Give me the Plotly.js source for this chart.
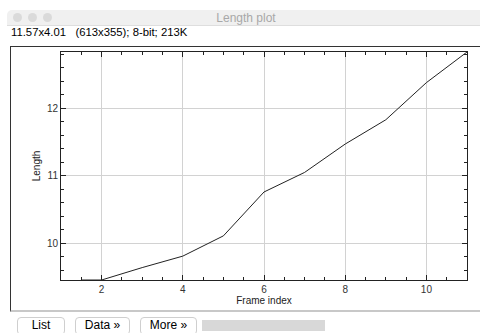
<!DOCTYPE html>
<html>
<head>
<meta charset="utf-8">
<script src="https://cdn.plot.ly/plotly-3.0.1.min.js"></script>
<style>
  html, body { margin: 0; padding: 0; background: #ffffff; width: 480px; height: 333px; overflow: hidden; }
  .abs { position: absolute; }
  #titlebar { left: 7px; top: 10px; width: 480px; height: 15px; background: #f0f0f0; border-bottom: 1px solid #dedede; border-top-left-radius: 5px; }
  .light { width: 9px; height: 9px; border-radius: 50%; background: #dadada; top: 13px; }
  #wtitle { left: 0; width: 492px; top: 11px; text-align: center; font-family: "Liberation Sans", Arial, sans-serif; font-size: 12px; color: #a8a8a8; }
  #info { left: 11px; top: 26px; font-family: "Liberation Sans", Arial, sans-serif; font-size: 11.3px; color: #000; white-space: pre; }
  #frame { left: 10px; top: 46px; width: 480px; height: 263px; border-left: 1px solid #333; border-top: 1px solid #333; border-bottom: 2px solid #c8c8c8; }
  .btn { top: 317px; height: 18px; border: 1px solid #cfcfcf; border-radius: 4px; background: #fff; font-family: "Liberation Sans", Arial, sans-serif; font-size: 12px; color: #000; text-align: center; line-height: 14px; box-sizing: border-box; }
  #bar { left: 202px; top: 320px; width: 123px; height: 11px; background: #d8d8d8; }
  #plot { left: 0; top: 0; width: 480px; height: 333px; }
</style>
</head>
<body>
<div class="abs" id="titlebar"></div>
<div class="abs light" style="left:13px"></div>
<div class="abs light" style="left:28px"></div>
<div class="abs light" style="left:43px"></div>
<div class="abs" id="wtitle">Length plot</div>
<div class="abs" id="info">11.57x4.01   (613x355); 8-bit; 213K</div>
<div class="abs" id="frame"></div>
<div class="abs btn" style="left:17px;width:48px">List</div>
<div class="abs btn" style="left:75px;width:55px">Data »</div>
<div class="abs btn" style="left:140px;width:57px">More »</div>
<div class="abs" id="bar"></div>
<div class="abs" id="plot"></div>
<script>
// Data
const frameIndex = [1.5, 2, 3, 4, 5, 6, 7, 8, 9, 10, 11];
const lengthValues = [9.456, 9.456, 9.64, 9.81, 10.11, 10.76, 11.05, 11.47, 11.83, 12.38, 12.834];
const xTitle = "Frame index";
const yTitle = "Length";

const fontFamily = '"Liberation Sans", Arial, Helvetica, sans-serif';

const trace = {
  x: frameIndex,
  y: lengthValues,
  type: 'scatter',
  mode: 'lines',
  line: { color: '#222222', width: 1 },
  hoverinfo: 'skip',
  cliponaxis: false
};

const axisCommon = {
  showline: true,
  linecolor: '#222222',
  linewidth: 1,
  mirror: 'ticks',
  ticks: 'inside',
  ticklen: 5,
  tickwidth: 1,
  tickcolor: '#222222',
  showgrid: true,
  gridcolor: '#d2d2d2',
  gridwidth: 1,
  zeroline: false,
  tickfont: { family: fontFamily, size: 10, color: '#333333' },
  fixedrange: true
};

const layout = {
  width: 480,
  height: 333,
  margin: { l: 61, r: 13, t: 52, b: 53, pad: 0 },
  paper_bgcolor: 'rgba(0,0,0,0)',
  plot_bgcolor: '#ffffff',
  showlegend: false,
  xaxis: Object.assign({}, axisCommon, {
    range: [1, 11],
    tick0: 0,
    dtick: 2,
    minor: { dtick: 0.5, tick0: 0, ticks: 'inside', ticklen: 3, tickcolor: '#222222', showgrid: false },
    title: { text: xTitle, font: { family: fontFamily, size: 10, color: '#222222' }, standoff: 2 }
  }),
  yaxis: Object.assign({}, axisCommon, {
    range: [9.456, 12.834],
    tick0: 0,
    dtick: 1,
    minor: { dtick: 0.2, tick0: 0, ticks: 'inside', ticklen: 3, tickcolor: '#222222', showgrid: false },
    title: { text: yTitle, font: { family: fontFamily, size: 10, color: '#222222' }, standoff: 4 }
  })
};

Plotly.newPlot('plot', [trace], layout, { staticPlot: true, displayModeBar: false });
</script>
</body>
</html>
